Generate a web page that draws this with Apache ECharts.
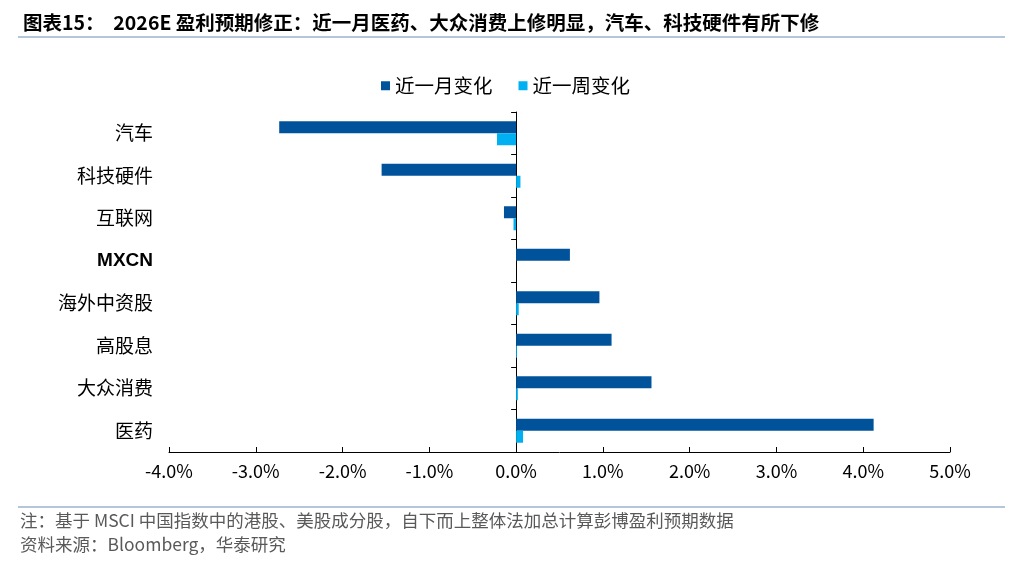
<!DOCTYPE html>
<html><head><meta charset="utf-8">
<script src="https://cdn.jsdelivr.net/npm/echarts@6/dist/echarts.min.js"></script>
<style>html,body{margin:0;padding:0;background:#fff}#c{width:1011px;height:566px}</style>
</head><body><div id="c"></div>
<script>
const categories = ['汽车','科技硬件','互联网','MXCN','海外中资股','高股息','大众消费','医药'];
const monthChange = [-2.73, -1.55, -0.14, 0.62, 0.96, 1.10, 1.56, 4.12];
const weekChange = [-0.22, 0.05, -0.03, 0.00, 0.03, 0.01, 0.02, 0.08];
const seriesNames = ['近一月变化','近一周变化'];
const titleText = '图表15：  2026E 盈利预期修正：近一月医药、大众消费上修明显，汽车、科技硬件有所下修';
const noteText = '注：基于 MSCI 中国指数中的港股、美股成分股，自下而上整体法加总计算彭博盈利预期数据';
const sourceText = '资料来源：Bloomberg，华泰研究';

const chart = echarts.init(document.getElementById('c'));
const cjk = '"Liberation Sans Narrow", "Noto Sans CJK SC", sans-serif';
const gridLeft = 169, gridRight = 61, xMin = -4, xMax = 5;
const plotW = 1011 - gridLeft - gridRight;
const zeroOffset = -plotW * (0 - xMin) / (xMax - xMin);
chart.setOption({
  animation: false,
  title: {
    text: titleText, left: 18, top: 8,
    textStyle: {fontSize: 19.5, fontWeight: 'bold', color: '#000', fontFamily: cjk}
  },
  graphic: [
    {type: 'line', shape: {x1: 18, y1: 37, x2: 1005, y2: 37}, style: {stroke: '#9DB3CE', lineWidth: 1.5}},
    {type: 'line', shape: {x1: 18, y1: 507, x2: 1005, y2: 507}, style: {stroke: '#9DB3CE', lineWidth: 1.5}},
    {type: 'text', left: 20, top: 512, style: {text: noteText, fill: '#595959', font: '17.5px ' + cjk}},
    {type: 'text', left: 20, top: 536, style: {text: sourceText, fill: '#595959', font: '17.5px ' + cjk}}
  ],
  legend: {
    data: seriesNames, top: 71, left: 'center', itemWidth: 9, itemHeight: 9, itemGap: 26,
    icon: 'rect',
    textStyle: {fontSize: 19.5, color: '#000', fontFamily: cjk}
  },
  grid: {left: gridLeft, right: gridRight, top: 112, bottom: 114, containLabel: false},
  xAxis: {
    type: 'value', min: xMin, max: xMax, interval: 1,
    axisLine: {show: true, lineStyle: {color: '#000', width: 1}},
    axisTick: {show: true, inside: true, length: 5, lineStyle: {color: '#000'}},
    splitLine: {show: false},
    axisLabel: {formatter: v => v.toFixed(1) + '%', fontSize: 18, color: '#000', margin: 10, fontFamily: cjk}
  },
  yAxis: [
    {
      type: 'category', data: categories, inverse: true,
      axisLine: {show: false}, axisTick: {show: false},
      axisLabel: {
        fontSize: 19, color: '#000', margin: 16, fontFamily: cjk,
        formatter: v => /^[A-Z]+$/.test(v) ? '{en|' + v + '}' : v,
        rich: {en: {fontSize: 19, fontWeight: 'bold', fontFamily: 'Liberation Sans, Arial, sans-serif', color: '#000'}}
      }
    },
    {
      type: 'category', data: categories, inverse: true, position: 'left', offset: zeroOffset,
      axisLine: {show: true, onZero: false, lineStyle: {color: '#000', width: 1}},
      axisTick: {show: true, length: 5, lineStyle: {color: '#000'}},
      axisLabel: {show: false}
    }
  ],
  series: [
    {name: seriesNames[0], type: 'bar', data: monthChange, barWidth: 12, barGap: '0%',
     itemStyle: {color: '#00539B'}},
    {name: seriesNames[1], type: 'bar', data: weekChange, barWidth: 12, barGap: '0%',
     itemStyle: {color: '#00B0F0'}}
  ]
});
</script></body></html>
